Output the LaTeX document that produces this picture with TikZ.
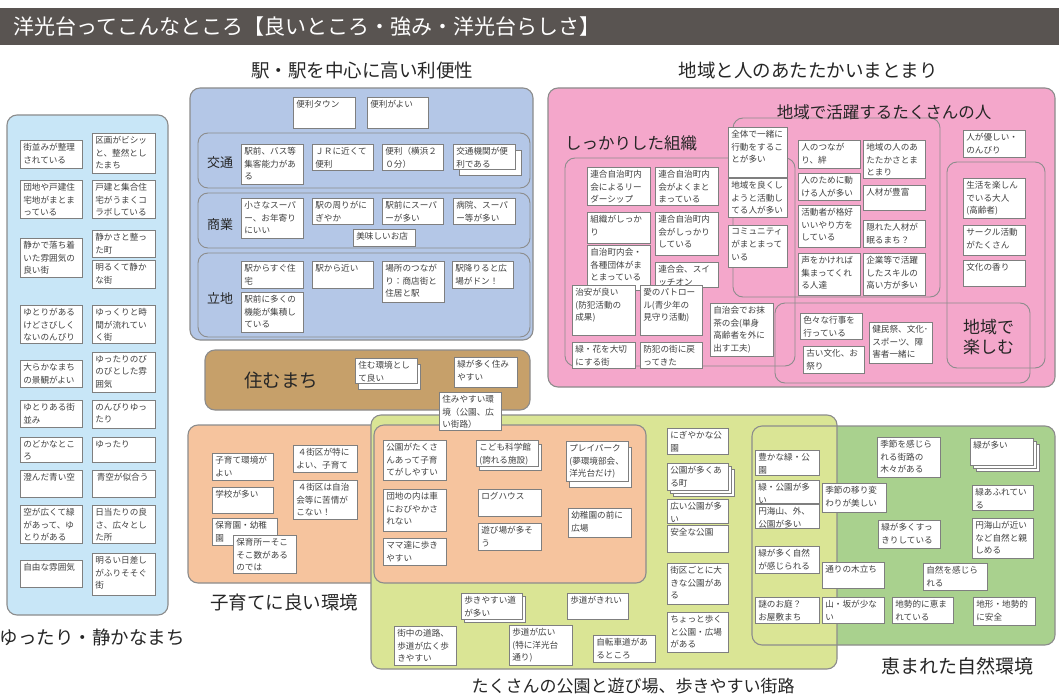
\documentclass[tikz,border=0pt]{standalone}
\usepackage{fontspec}
\setmainfont{Noto Sans CJK JP}
\definecolor{titlebg}{HTML}{595451}
\definecolor{skyfill}{HTML}{C8E6F7}
\definecolor{stationfill}{HTML}{B4C7E7}
\definecolor{pinkfill}{HTML}{F4A7CB}
\definecolor{brownfill}{HTML}{C6A06A}
\definecolor{peachfill}{HTML}{F6C49E}
\definecolor{limefill}{HTML}{DAE595}
\definecolor{greenfill}{HTML}{A9D18E}
\definecolor{regionline}{HTML}{8C8C8C}
\definecolor{notegray}{HTML}{7F7F7F}
\definecolor{notetext}{HTML}{404040}
\definecolor{labeltext}{HTML}{262626}
\tikzset{
  note/.style={draw=notegray, fill=white, line width=0.7pt, inner sep=3pt, anchor=north west, text=notetext, font=\fontsize{8.6}{12.6}\selectfont},
  shadownote/.style={draw=notegray, fill=white, line width=0.7pt},
  region/.style={draw=regionline, line width=1.1pt, rounded corners=10pt},
  grouprect/.style={draw=regionline, line width=0.9pt, rounded corners=10pt},
  biglabel/.style={text=labeltext, inner sep=0pt, font=\fontsize{18.5}{22}\selectfont},
  sublabel/.style={text=labeltext, inner sep=0pt, font=\fontsize{16.5}{20}\selectfont},
  rowlabel/.style={text=labeltext, inner sep=0pt, font=\fontsize{13}{16}\selectfont},
}
\newcommand\nt[6]{\node[note] (#1) at (#2,-#3) {\begin{minipage}[t][\dimexpr #5pt-#3pt-6pt\relax][t]{\dimexpr #4pt-#2pt-6pt\relax}\raggedright #6\end{minipage}};}
\newcommand\shd[6]{\draw[shadownote] (#1+#5,-#2-#6) rectangle (#3+#5,-#4-#6);}
\newcommand\reg[5]{\draw[region, fill=#5] (#1,-#2) rectangle (#3,-#4);}
\begin{document}
\begin{tikzpicture}[x=1pt,y=1pt]
\useasboundingbox (0,0) rectangle (1059,-698);
\fill[white] (0,0) rectangle (1059,-698);
% title
\fill[titlebg] (0,-8) rectangle (1059,-45);
\node[anchor=west, text=white, inner sep=0pt, font=\fontsize{21}{24}\selectfont] (title) at (13,-26.5) {洋光台ってこんなところ【良いところ・強み・洋光台らしさ】};
\node[biglabel] (h1) at (362,-70) {駅・駅を中心に高い利便性};
\node[biglabel] (h2) at (808,-70) {地域と人のあたたかいまとまり};
% regions
\reg{7}{115}{168}{615}{skyfill}
\reg{190}{88}{533}{340}{stationfill}
\draw[grouprect] (198,-133) rectangle (530,-188);
\draw[grouprect] (198,-193) rectangle (530,-248);
\draw[grouprect] (198,-253) rectangle (530,-337);
\reg{548}{88}{1055}{387}{pinkfill}
\draw[grouprect] (565,-158) rectangle (795,-366);
\draw[grouprect] (733,-118) rectangle (940,-297);
\draw[grouprect] (775,-303) rectangle (1030,-383);
\draw[grouprect] (947,-162) rectangle (1045,-368);
\reg{205}{350}{530}{410}{brownfill}
\fill[greenfill, rounded corners=10pt] (752,-426) rectangle (1055,-645);
\reg{188}{425}{385}{583}{peachfill}
\reg{371}{415}{837}{669}{limefill}
\reg{374}{425}{646}{583}{peachfill}
\draw[region] (752,-426) rectangle (1055,-645);
% left column
\nt{l1}{20}{140}{82}{168}{街並みが整理\\されている}
\nt{r1}{92}{133}{155}{173}{区画がビシッ\\と、整然とし\\たまち}
\nt{l2}{20}{180}{82}{218}{団地や戸建住\\宅地がまとま\\っている}
\nt{r2}{92}{180}{155}{218}{戸建と集合住\\宅がうまくコ\\ラボしている}
\nt{l3}{20}{238}{82}{277}{静かで落ち着\\いた雰囲気の\\良い街}
\nt{r3}{92}{230}{155}{257}{静かさと整っ\\た町}
\nt{r4}{92}{260}{155}{288}{明るくて静か\\な街}
\nt{l4}{20}{305}{82}{343}{ゆとりがある\\けどさびしく\\ないのんびり}
\nt{r5}{92}{305}{155}{343}{ゆっくりと時\\間が流れてい\\く街}
\nt{l5}{20}{360}{82}{387}{大らかなまち\\の景観がよい}
\nt{r6}{92}{352}{155}{392}{ゆったりのび\\のびとした雰\\囲気}
\nt{l6}{20}{400}{82}{427}{ゆとりある街\\並み}
\nt{r7}{92}{400}{155}{428}{のんびりゆっ\\たり}
\nt{l7}{20}{437}{82}{462}{のどかなとこ\\ろ}
\nt{r8}{92}{437}{155}{462}{ゆったり}
\nt{l8}{20}{470}{82}{497}{澄んだ青い空}
\nt{r9}{92}{470}{155}{497}{\,青空が似合う}
\nt{l9}{20}{505}{82}{543}{空が広くて緑\\があって、ゆ\\とりがある}
\nt{r10}{92}{505}{155}{543}{日当たりの良\\さ、広々とし\\た所}
\nt{l10}{20}{560}{82}{587}{自由な雰囲気}
\nt{r11}{92}{553}{155}{595}{明るい日差し\\がふりそそぐ\\街}
% station
\nt{s1}{293}{97}{355}{128}{便利タウン}
\nt{s2}{367}{97}{428}{128}{便利がよい}
\nt{k1}{241}{144}{303}{184}{駅前、バス等\\集客能力があ\\る}
\nt{k2}{312}{144}{373}{170}{ＪＲに近くて\\便利}
\nt{k3}{382}{144}{443}{170}{便利（横浜２\\０分）}
\shd{453}{144}{515}{169}{6}{6}
\nt{k4}{453}{144}{515}{169}{交通機関が便\\利である}
\nt{c1}{241}{198}{303}{238}{小さなスーパ\\ー、お年寄り\\にいい}
\nt{c2}{312}{198}{373}{224}{駅の周りがに\\ぎやか}
\nt{c3}{382}{198}{443}{224}{駅前にスーパ\\ーが多い}
\nt{c4}{453}{198}{515}{224}{病院、スーパ\\ー等が多い}
\nt{c5}{353}{229}{415}{246}{美味しいお店}
\nt{t1}{241}{261}{303}{288}{駅からすぐ住\\宅}
\nt{t2}{241}{292}{303}{332}{駅前に多くの\\機能が集積し\\ている}
\nt{t3}{312}{261}{373}{288}{駅から近い}
\nt{t4}{382}{261}{444}{302}{場所のつなが\\り：商店街と\\住居と駅}
\nt{t5}{452}{261}{513}{288}{駅降りると広\\場がドン！}
\node[rowlabel] (kotsu) at (220,-163) {交通};
\node[rowlabel] (shogyo) at (220,-225) {商業};
\node[rowlabel] (ritchi) at (220,-298) {立地};
% pink
\nt{q1}{728}{127}{787}{177}{全体で一緒に\\行動をするこ\\とが多い}
\nt{q2}{728}{178}{787}{217}{地域を良くし\\ようと活動し\\てる人が多い}
\nt{q3}{728}{225}{787}{267}{コミュニティ\\がまとまって\\いる}
\nt{q4}{587}{167}{650}{205}{連合自治町内\\会によるリー\\ダーシップ}
\nt{q5}{655}{167}{718}{205}{連合自治町内\\会がよくまと\\まっている}
\nt{q6}{587}{212}{650}{243}{組織がしっか\\り}
\nt{q7}{655}{212}{718}{255}{連合自治町内\\会がしっかり\\している}
\nt{q8}{587}{245}{650}{290}{自治町内会・\\各種団体がま\\とまっている}
\nt{q9}{655}{262}{718}{287}{連合会、スイ\\ッチオン}
\nt{q10}{572}{285}{635}{335}{治安が良い\\(防犯活動の\\成果)}
\nt{q11}{640}{285}{702}{335}{愛のパトロー\\ル(青少年の\\見守り活動)}
\nt{q12}{710}{303}{773}{356}{自治会でお抹\\茶の会(単身\\高齢者を外に\\出す工夫)}
\nt{q13}{572}{342}{635}{368}{緑・花を大切\\にする街}
\nt{q14}{640}{342}{702}{368}{防犯の街に戻\\ってきた}
\nt{m1}{798}{140}{860}{168}{人のつなが\\り、絆}
\nt{m2}{863}{140}{925}{178}{地域の人のあ\\たたかさとま\\とまり}
\nt{m3}{798}{173}{860}{200}{人のために動\\ける人が多い}
\nt{m4}{863}{185}{925}{210}{人材が豊富}
\nt{m5}{798}{205}{860}{247}{活動者が格好\\いいやり方を\\している}
\nt{m6}{863}{220}{925}{247}{隠れた人材が\\眠るまち？}
\nt{m7}{798}{253}{860}{295}{声をかければ\\集まってくれ\\る人達}
\nt{m8}{863}{253}{925}{295}{企業等で活躍\\したスキルの\\高い方が多い}
\nt{e1}{963}{130}{1025}{157}{人が優しい・\\のんびり}
\nt{e2}{963}{178}{1025}{218}{生活を楽しん\\でいる大人\\(高齢者)}
\nt{e3}{963}{225}{1025}{255}{サークル活動\\がたくさん}
\nt{e4}{963}{260}{1025}{286}{文化の香り}
\nt{e5}{800}{313}{862}{339}{色々な行事を\\行っている}
\nt{e6}{803}{346}{864}{373}{古い文化、お\\祭り}
\nt{e7}{869}{322}{932}{363}{健民祭、文化･\\スポーツ、障\\害者一緒に}
\node[sublabel] (h3) at (884,-112) {地域で活躍するたくさんの人};
\node[sublabel] (h4) at (631,-143) {しっかりした組織};
\node[sublabel, anchor=west, align=left, font=\fontsize{17}{20}\selectfont] (h5) at (963,-337) {地域で\\楽しむ};
% brown
\shd{355}{358}{417}{383}{3}{6}
\nt{b1}{355}{358}{417}{383}{住む環境とし\\て良い}
\nt{b2}{454}{357}{517}{387}{緑が多く住み\\やすい}
\nt{b3}{439}{392}{501}{430}{住みやすい環\\境（公園、広\\い街路）}
\node[biglabel] (sumu) at (281,-380) {住むまち};
% orange
\nt{o1}{212}{453}{273}{480}{子育て環境が\\よい}
\nt{o2}{212}{487}{273}{513}{学校が多い}
\nt{o3}{212}{518}{277}{545}{保育園・幼稚\\園}
\nt{o4}{233}{535}{296}{573}{保育所ーそこ\\そこ数がある\\のでは}
\nt{o5}{293}{445}{357}{472}{\,４街区が特に\\よい、子育て}
\nt{o6}{293}{480}{357}{519}{\,４街区は自治\\会等に苦情が\\こない！}
\nt{p1}{383}{440}{446}{480}{公園がたくさ\\んあって子育\\てがしやすい}
\nt{p2}{383}{489}{446}{531}{団地の内は車\\におびやかさ\\れない}
\nt{p3}{383}{538}{446}{565}{ママ達に歩き\\やすい}
\shd{476}{440}{538}{466}{3}{4}
\nt{p4}{476}{440}{538}{466}{こども科学館\\(誇れる施設)}
\nt{p5}{478}{489}{541}{516}{ログハウス}
\nt{p6}{478}{523}{541}{550}{遊び場が多そ\\う}
\shd{566}{441}{628}{481}{3}{6}
\nt{p7}{566}{441}{628}{481}{プレイパーク\\(夢環境部会、\\洋光台だけ)}
\nt{p8}{568}{508}{631}{537}{幼稚園の前に\\広場}
\node[biglabel] (kosodate) at (284,-602) {子育てに良い環境};
% lime
\shd{461}{593}{522}{619}{3}{3}
\nt{w1}{461}{593}{522}{619}{歩きやすい道\\が多い}
\nt{w2}{567}{593}{628}{619}{歩道がきれい}
\nt{w3}{394}{626}{456}{665}{街中の道路、\\歩道が広く歩\\きやすい}
\nt{w4}{509}{625}{572}{665}{歩道が広い\\(特に洋光台\\通り)}
\nt{w5}{593}{635}{655}{662}{自転車道があ\\るところ}
\nt{y1}{667}{428}{728}{454}{にぎやかな公\\園}
\shd{667}{463}{728}{490}{6}{6}
\shd{667}{463}{728}{490}{3}{3}
\nt{y2}{667}{463}{728}{490}{公園が多くあ\\る町}
\nt{y3}{667}{499}{728}{523}{広い公園が多\\い}
\nt{y4}{667}{525}{728}{552}{安全な公園}
\nt{y5}{667}{563}{728}{604}{街区ごとに大\\きな公園があ\\る}
\nt{y6}{667}{612}{728}{652}{ちょっと歩く\\と公園・広場\\がある}
\nt{g1}{755}{450}{819}{475}{豊かな緑・公\\園}
\nt{g2}{755}{480}{819}{503}{緑・公園が多\\い}
\nt{g3}{755}{504}{819}{528}{円海山、外、\\公園が多い}
\nt{g4}{755}{546}{819}{573}{緑が多く自然\\が感じられる}
\nt{g5}{755}{597}{819}{623}{謎のお庭？\\お屋敷まち}
% green
\nt{n1}{822}{483}{886}{512}{季節の移り変\\わりが美しい}
\nt{n2}{877}{437}{940}{477}{季節を感じら\\れる街路の\\木々がある}
\shd{970}{438}{1033}{465}{6}{6}
\shd{970}{438}{1033}{465}{3}{3}
\nt{n3}{970}{438}{1033}{465}{緑が多い}
\nt{n4}{972}{485}{1033}{510}{緑あふれてい\\る}
\nt{n5}{878}{520}{940}{548}{緑が多くすっ\\きりしている}
\nt{n6}{972}{518}{1033}{558}{円海山が近い\\など自然と親\\しめる}
\nt{n7}{822}{562}{884}{588}{通りの木立ち}
\nt{n8}{923}{563}{987}{590}{自然を感じら\\れる}
\nt{n9}{822}{597}{884}{623}{山・坂が少な\\い}
\nt{n10}{892}{597}{953}{623}{地勢的に恵ま\\れている}
\nt{n11}{973}{597}{1035}{625}{地形・地勢的\\に安全}
% bottom labels
\node[biglabel] (yuttari) at (92,-637) {ゆったり・静かなまち};
\node[biglabel, font=\fontsize{17}{20}\selectfont] (koen) at (633,-686) {たくさんの公園と遊び場、歩きやすい街路};
\node[biglabel, font=\fontsize{19}{22}\selectfont] (shizen) at (957,-666) {恵まれた自然環境};
\end{tikzpicture}
\end{document}
